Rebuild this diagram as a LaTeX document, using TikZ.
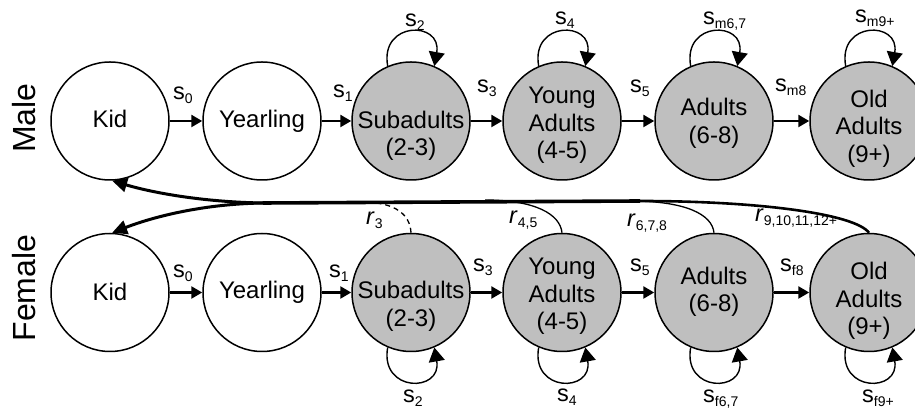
\documentclass[tikz,border=0pt]{standalone}
\usepackage{fontspec}
\setmainfont{Liberation Sans}
\usetikzlibrary{arrows.meta,calc}
\newcommand{\mylab}[2]{#1\raisebox{-4pt}{\fontsize{14}{14}\selectfont #2}}
\begin{document}
\begin{tikzpicture}[x=1pt,y=1pt,
  state/.style={circle,draw,line width=1.5pt,minimum size=118pt,inner sep=0pt},
  adult/.style={state,fill=black!25},
  txt/.style={font=\fontsize{24}{27.5}\selectfont,align=center,inner sep=0pt},
  side/.style={font=\fontsize{32}{32}\selectfont,rotate=90,inner sep=0pt},
  elab/.style={font=\fontsize{23.5}{23.5}\selectfont,anchor=base west,inner sep=0pt},
  harrow/.style={line width=2.5pt,-{Triangle[length=11pt,width=12pt]}},
  selfloop/.style={line width=1.4pt,-{Triangle[length=14pt,width=16pt]}},
  rbranch/.style={line width=1.3pt},
  oldbranch/.style={line width=2.6pt},
  trunk/.style={line width=3.6pt},
  kidarrow/.style={line width=3pt,-{Triangle[length=15pt,width=14pt]}},
]
\useasboundingbox (0,0) rectangle (915,414);
\clip (0,0) rectangle (915,414);

% side labels
\node[side] (male) at (24,296) {Male};
\node[side] (female) at (24,126) {Female};

% male row
\node[state] (mk) at (110,293) {};
\node[state] (my) at (262,293) {};
\node[adult] (ms) at (411,293) {};
\node[adult] (myo) at (562,293) {};
\node[adult] (ma) at (714,293) {};
\node[adult] (mo) at (869,293) {};
\node[txt] (mkt) at (110,295) {Kid};
\node[txt] (myt) at (262,292.5) {Yearling};
\node[txt] (mst) at (411,278) {Subadults\\(2-3)};
\node[txt] (myot) at (562,288.5) {Young\\Adults\\(4-5)};
\node[txt] (mat) at (714,290.5) {Adults\\(6-8)};
\node[txt] (mot) at (869,285.5) {Old\\Adults\\(9+)};

% female row
\node[state] (fk) at (110,121.5) {};
\node[state] (fy) at (262,121.5) {};
\node[adult] (fs) at (411,121.5) {};
\node[adult] (fyo) at (562,121.5) {};
\node[adult] (fa) at (714,121.5) {};
\node[adult] (fo) at (869,121.5) {};
\node[txt] (fkt) at (110,122.5) {Kid};
\node[txt] (fyt) at (262,122) {Yearling};
\node[txt] (fst) at (411,107.5) {Subadults\\(2-3)};
\node[txt] (fyot) at (562,117.5) {Young\\Adults\\(4-5)};
\node[txt] (fat) at (714,122) {Adults\\(6-8)};
\node[txt] (fot) at (869,113) {Old\\Adults\\(9+)};

% male transitions
\draw[harrow] (mk) -- (my);
\draw[harrow] (my) -- (ms);
\draw[harrow] (ms) -- (myo);
\draw[harrow] (myo) -- (ma);
\draw[harrow] (ma) -- (mo);
\node[elab] (ls0m) at (173,314) {\mylab{s}{0}};
\node[elab] (ls1m) at (333,316) {\mylab{s}{1}};
\node[elab] (ls3m) at (477,321) {\mylab{s}{3}};
\node[elab] (ls5m) at (630,321) {\mylab{s}{5}};
\node[elab] (ls8m) at (775,322) {\mylab{s}{m8}};

% male self loops
\draw[selfloop] (ms.113) .. controls +(100:46) and +(80:46) .. (ms.67);
\draw[selfloop] (myo.113) .. controls +(100:46) and +(80:46) .. (myo.67);
\draw[selfloop] (ma.113) .. controls +(100:46) and +(80:46) .. (ma.67);
\draw[selfloop] (mo.113) .. controls +(100:46) and +(80:46) .. (mo.67);
\node[elab] (ls2m) at (405,387) {\mylab{s}{2}};
\node[elab] (ls4m) at (555,389) {\mylab{s}{4}};
\node[elab] (ls67m) at (703,389) {\mylab{s}{m6,7}};
\node[elab] (ls9m) at (855,391) {\mylab{s}{m9+}};

% female transitions
\draw[harrow] (fk) -- (fy);
\draw[harrow] (fy) -- (fs);
\draw[harrow] (fs) -- (fyo);
\draw[harrow] (fyo) -- (fa);
\draw[harrow] (fa) -- (fo);
\node[elab] (ls0f) at (173,136) {\mylab{s}{0}};
\node[elab] (ls1f) at (329,136) {\mylab{s}{1}};
\node[elab] (ls3f) at (473,142) {\mylab{s}{3}};
\node[elab] (ls5f) at (630,142) {\mylab{s}{5}};
\node[elab] (ls8f) at (780,142) {\mylab{s}{f8}};

% female self loops
\draw[selfloop] (fs.247) .. controls +(260:46) and +(280:46) .. (fs.293);
\draw[selfloop] (fyo.247) .. controls +(260:46) and +(280:46) .. (fyo.293);
\draw[selfloop] (fa.247) .. controls +(260:46) and +(280:46) .. (fa.293);
\draw[selfloop] (fo.247) .. controls +(260:46) and +(280:46) .. (fo.293);
\node[elab] (ls2f) at (403,11) {\mylab{s}{2}};
\node[elab] (ls4f) at (557,12) {\mylab{s}{4}};
\node[elab] (ls67f) at (703,11) {\mylab{s}{f6,7}};
\node[elab] (ls9f) at (862,11) {\mylab{s}{f9+}};

% reproduction
\coordinate (split) at (263,211);
\coordinate (tj) at (640,213);
\draw[oldbranch] (fo.north) .. controls (855,200) and (760,213) .. (tj);
\draw[rbranch] (fa.north) .. controls (712,200) and (685,213) .. (630,213);
\draw[rbranch] (fyo.north) .. controls (560,200) and (535,214) .. (485,214);
\draw[rbranch,dashed,dash pattern=on 5pt off 4pt] (fs.north) .. controls (410,200) and (395,211) .. (365,212);
\draw[trunk] (tj) -- (split);
\draw[kidarrow] (split) .. controls (200,212) and (150,222) .. (mk.-88);
\draw[kidarrow] (split) .. controls (200,210) and (150,196) .. (fk.88);
\node[elab] (lr3) at (366,189) {\mylab{\textit{r}}{3}};
\node[elab] (lr45) at (509,190) {\mylab{\textit{r}}{4,5}};
\node[elab] (lr678) at (627,187) {\mylab{\textit{r}}{6,7,8}};
\node[elab] (lr9) at (755,192) {\mylab{\textit{r}}{9,10,11,12+}};
\end{tikzpicture}
\end{document}
